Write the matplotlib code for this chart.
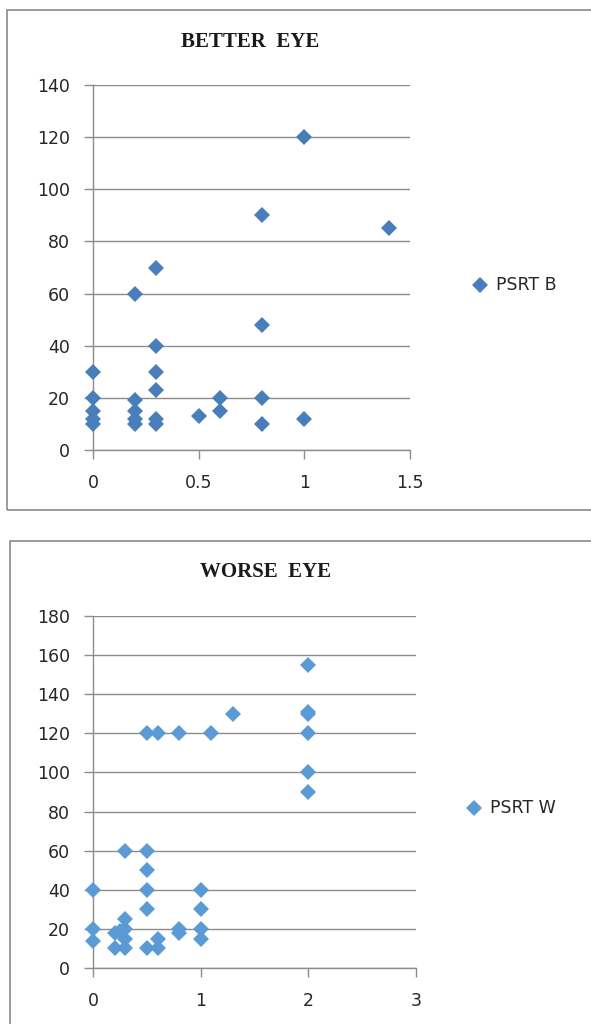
import matplotlib
matplotlib.use("Agg")
import matplotlib.pyplot as plt
from matplotlib.patches import Rectangle
from matplotlib.lines import Line2D

# better eye (PSRT B)
better_x = [0, 0, 0, 0, 0,
            0.2, 0.2, 0.2, 0.2, 0.2,
            0.3, 0.3, 0.3, 0.3, 0.3, 0.3,
            0.5, 0.6, 0.6,
            0.8, 0.8, 0.8, 0.8,
            1, 1, 1.4]
better_y = [30, 20, 15, 12, 10,
            60, 19, 15, 12, 10,
            70, 40, 30, 23, 12, 10,
            13, 20, 15,
            90, 48, 20, 10,
            120, 12, 85]

# worse eye (PSRT W)
worse_x = [0, 0, 0,
           0.2, 0.2, 0.25,
           0.3, 0.3, 0.3, 0.3, 0.3,
           0.5, 0.5, 0.5, 0.5, 0.5, 0.5,
           0.6, 0.6, 0.6,
           0.8, 0.8, 0.8,
           1, 1, 1, 1,
           1.1, 1.3,
           2, 2, 2, 2, 2, 2]
worse_y = [40, 20, 14,
           18, 10, 19,
           60, 25, 20, 15, 10,
           120, 60, 50, 40, 30, 10,
           120, 15, 10,
           120, 20, 18,
           40, 30, 20, 15,
           120, 130,
           155, 131, 130, 120, 100, 90]

better_ticks_x = [0, 0.5, 1, 1.5]
better_ticks_y = [0, 20, 40, 60, 80, 100, 120, 140]
worse_ticks_x = [0, 1, 2, 3]
worse_ticks_y = [0, 20, 40, 60, 80, 100, 120, 140, 160, 180]

W, H = 591, 1024
fig = plt.figure(figsize=(W / 100, H / 100), dpi=100)
fig.patch.set_facecolor("white")

GRID = "#8c8c8c"
TXT = "#262626"
MS = 8.2


def px(x0, y0, x1, y1):
    # pixel box (top-left origin) -> figure fraction
    return [x0 / W, 1 - y1 / H, (x1 - x0) / W, (y1 - y0) / H]


def panel(rect, xs, ys, xt, yt, color, title, title_xy, leg_label, leg_xy):
    ax = fig.add_axes(px(*rect))
    ax.plot(xs, ys, linestyle="none", marker="D", markersize=MS,
            color=color, markeredgewidth=0, clip_on=False, zorder=3)
    ax.set_xlim(xt[0], xt[-1])
    ax.set_ylim(yt[0], yt[-1])
    ax.set_xticks(xt)
    ax.set_yticks(yt)
    ax.set_xticklabels([f"{v:g}" for v in xt])
    ax.grid(axis="y", color=GRID, linewidth=1.0)
    ax.set_axisbelow(True)
    for s in ["top", "right"]:
        ax.spines[s].set_visible(False)
    for s in ["left", "bottom"]:
        ax.spines[s].set_color(GRID)
        ax.spines[s].set_linewidth(1.0)
    ax.tick_params(axis="both", direction="out", length=6.5, width=1.0,
                   color=GRID, labelcolor=TXT, labelsize=12.5)
    ax.tick_params(axis="y", pad=10)
    ax.tick_params(axis="x", pad=11)
    for lab in ax.get_xticklabels() + ax.get_yticklabels():
        lab.set_family("DejaVu Sans")
    ax.set_facecolor("none")

    fig.text(title_xy[0] / W, 1 - title_xy[1] / H, title, ha="center",
             va="center", fontsize=15, fontweight="bold",
             family="Liberation Serif", color="#1a1a1a")

    fig.add_artist(Line2D([leg_xy[0] / W], [1 - leg_xy[1] / H],
                          linestyle="none", marker="D", markersize=MS,
                          color=color, markeredgewidth=0,
                          transform=fig.transFigure))
    fig.text((leg_xy[0] + 16) / W, 1 - leg_xy[1] / H, leg_label,
             ha="left", va="center", fontsize=12.5,
             family="DejaVu Sans", color=TXT)
    return ax


# outer chart frames
fig.add_artist(Rectangle((7 / W, 1 - 510 / H), 600 / W, 500 / H,
                         transform=fig.transFigure, fill=False,
                         edgecolor="#8a8a8a", linewidth=1.2))
fig.add_artist(Rectangle((10 / W, 1 - 1040 / H), 600 / W, 499 / H,
                         transform=fig.transFigure, fill=False,
                         edgecolor="#8a8a8a", linewidth=1.2))

panel((93, 85, 410, 450), better_x, better_y, better_ticks_x, better_ticks_y,
      "#4a7ebb", "BETTER  EYE", (250, 42), "PSRT B", (480, 285))
panel((93, 616, 416, 968), worse_x, worse_y, worse_ticks_x, worse_ticks_y,
      "#5b9bd5", "WORSE  EYE", (266, 572), "PSRT W", (474, 808))

fig.savefig("out.png", dpi=100, facecolor="white")
